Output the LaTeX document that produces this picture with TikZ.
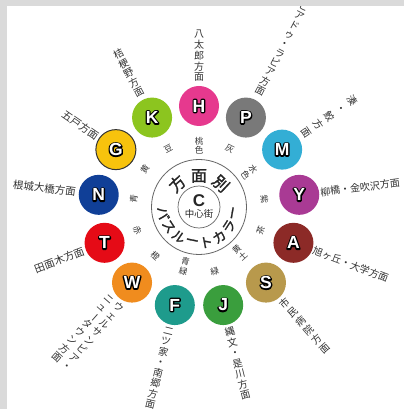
\documentclass[tikz,border=0pt]{standalone}
\usepackage{fontspec}
\usepackage{graphicx}
\setmainfont{Liberation Sans}
\newfontfamily\jp{Noto Sans CJK JP}
\newfontfamily\jpb[FakeBold=1.6]{Noto Sans CJK JP}
\usetikzlibrary{calc}
\definecolor{cH}{HTML}{E6398E}
\definecolor{cP}{HTML}{797979}
\definecolor{cM}{HTML}{33AED5}
\definecolor{cY}{HTML}{A93A94}
\definecolor{cA}{HTML}{8C2A27}
\definecolor{cS}{HTML}{B8994C}
\definecolor{cJ}{HTML}{3A9E3D}
\definecolor{cF}{HTML}{1E9B8C}
\definecolor{cW}{HTML}{F08C1E}
\definecolor{cT}{HTML}{E50B16}
\definecolor{cN}{HTML}{103F97}
\definecolor{cG}{HTML}{F7C30D}
\definecolor{cK}{HTML}{8CC51F}
\definecolor{framegray}{HTML}{DADADA}
\definecolor{txt}{HTML}{333333}
\definecolor{ringgray}{HTML}{666666}
\newcommand\vbar{\rotatebox[origin=c]{-90}{ー}}
\newcommand\outlined[1]{\special{pdf:code q 1 Tr 2.6 w 0 0 0 RG 1 j 1 J}\rlap{#1}\special{pdf:code Q}#1}
% #1 name, #2 angle, #3 colour, #4 letter, #5 extra style
\newcommand\stopmark[5]{%
  \node[busdot, fill=#3, #5] (#1) at (#2:101) {};
  \node[lettr, text=white] (#1-l) at (#1) {\outlined{#4}};
}
\begin{document}
\begin{tikzpicture}[x=1pt,y=1pt,
  busdot/.style={circle, minimum size=40pt, inner sep=0pt},
  lettr/.style={font=\fontsize{17.5}{17.5}\selectfont\bfseries, inner sep=0pt},
  dest/.style={font=\jp\fontsize{10}{10.8}\selectfont, text=txt, inner sep=0pt, align=center},
  colr/.style={font=\jp\fontsize{8.5}{9.5}\selectfont, text=txt, inner sep=0pt, align=center},
  midch/.style={font=\jpb\fontsize{16}{16}\selectfont, text=black!85, inner sep=0pt},
  arcch/.style={font=\jpb\fontsize{13.5}{13.5}\selectfont, text=black!85, inner sep=0pt},
]
\useasboundingbox (-199,-202) rectangle (205,207);
\fill[white] (-199,-202) rectangle (205,207);

% stops
\stopmark{H}{90}{cH}{H}{}
\stopmark{P}{62.31}{cP}{P}{}
\stopmark{M}{34.62}{cM}{M}{}
\stopmark{Y}{6.92}{cY}{Y}{}
\stopmark{A}{-20.77}{cA}{A}{}
\stopmark{S}{-48.46}{cS}{S}{}
\stopmark{J}{-76.15}{cJ}{J}{}
\stopmark{F}{-103.85}{cF}{F}{}
\stopmark{W}{-131.54}{cW}{W}{}
\stopmark{T}{-159.23}{cT}{T}{}
\stopmark{N}{173.08}{cN}{N}{}
\stopmark{G}{145.38}{cG}{G}{draw=black!80, line width=1pt}
\stopmark{K}{117.69}{cK}{K}{}

% centre rings
\node[circle, draw=ringgray, line width=0.8pt, minimum size=95pt, inner sep=0pt] (outer) at (0,0) {};
\node[circle, draw=ringgray, line width=0.7pt, minimum size=42pt, inner sep=0pt] (inner) at (0,0) {};
\node[font=\bfseries\fontsize{17}{17}\selectfont, text=black!85, inner sep=0pt] (cc) at (0,6) {C};
\node[font=\jp\fontsize{9.5}{9.5}\selectfont, text=black!85, inner sep=0pt] (cc2) at (0,-7) {中心街};

% colour names
\node[colr, anchor=north] (kH) at (90:70) {桃\\色};
\node[colr, anchor=north, rotate=-27.69] (kP) at (62.31:70) {灰};
\node[colr, anchor=north, rotate=-55.38] (kM) at (34.62:70) {水\\色};
\node[colr, anchor=north, rotate=-83.08] (kY) at (6.92:70) {紫};
\node[colr, anchor=south, rotate=69.23] (kA) at (-20.77:70) {茶};
\node[colr, anchor=south, rotate=41.54] (kS) at (-48.46:70) {黄\\土};
\node[colr, anchor=south, rotate=13.85] (kJ) at (-76.15:70) {緑};
\node[colr, anchor=south, rotate=-13.85] (kF) at (-103.85:70) {青\\緑};
\node[colr, anchor=south, rotate=-41.54] (kW) at (-131.54:70) {橙};
\node[colr, anchor=south, rotate=-69.23] (kT) at (-159.23:70) {赤};
\node[colr, anchor=north, rotate=83.08] (kN) at (173.08:70) {青};
\node[colr, anchor=north, rotate=55.38] (kG) at (145.38:70) {黄};
\node[colr, anchor=north, rotate=27.69] (kK) at (117.69:70) {豆};

% destinations
\node[dest, anchor=south] (dH) at (90:125) {八\\太\\郎\\方\\面};
\node[dest, anchor=south, rotate=27.69] (dK) at (117.69:125) {桔\\梗\\野\\方\\面};
\node[dest, anchor=south, rotate=-27.69, font=\jp\fontsize{10}{10.5}\selectfont] (dP) at (62.31:127) {ピ\\ア\\ド\\ゥ\\・\\ラ\\ピ\\ア\\方\\面};
\node[dest, anchor=south, rotate=-55.38, font=\jp\fontsize{10}{14}\selectfont] (dM) at (34.62:126) {湊\\・\\鮫\\方\\面};
\node[dest, anchor=west, rotate=6.92] (dY) at (6.92:122) {柳橋・金吹沢方面};
\node[dest, anchor=west, rotate=-20.77] (dA) at (-20.77:122) {旭ヶ丘・大学方面};
\node[dest, anchor=north, rotate=41.54, font=\jp\fontsize{10}{12}\selectfont] (dS) at (-48.46:124) {市\\民\\病\\院\\方\\面};
\node[dest, anchor=north, rotate=13.85] (dJ) at (-76.15:124) {縄\\文\\・\\是\\川\\方\\面};
\node[dest, anchor=north, rotate=-13.85] (dF) at (-103.85:124) {二\\ツ\\家\\・\\南\\郷\\方\\面};
\node[dest, anchor=north, rotate=-41.54] (dW) at (-131.54:124) {%
  \begin{tabular}{@{}c@{\hspace{3pt}}c@{}}
  ニ & ウ\\ ュ & ェ\\ \vbar & ル\\ タ & サ\\ ウ & ン\\ ン & ピ\\ 方 & ア\\ 面 & ・
  \end{tabular}};
\node[dest, anchor=east, rotate=20.77, font=\jp\fontsize{10.5}{11}\selectfont] (dT) at (-159.23:123) {田面木方面};
\node[dest, anchor=east, rotate=-6.92, font=\jp\fontsize{10.5}{11}\selectfont] (dN) at (173.08:124) {根城大橋方面};
\node[dest, anchor=east, rotate=-34.62, font=\jp\fontsize{10.5}{11}\selectfont] (dG) at (145.38:123) {五戸方面};

% "方面別"
\node[midch, rotate=43] (m1) at (133:32) {方};
\node[midch] (m2) at (90:31) {面};
\node[midch, rotate=-43] (m3) at (47:32) {別};

% "バスルートカラー"
\foreach \ch [count=\i from 0] in {バ,ス,ル,ー,ト,カ,ラ,ー} {
  \pgfmathsetmacro\ang{190+\i*22.86}
  \node[arcch, rotate=\ang+90] (b\i) at (\ang:36) {\ch};
}

% frame
\fill[framegray] (-199,201) rectangle (205,207);
\fill[framegray] (-199,-202) rectangle (-192,207);
\end{tikzpicture}
\end{document}
